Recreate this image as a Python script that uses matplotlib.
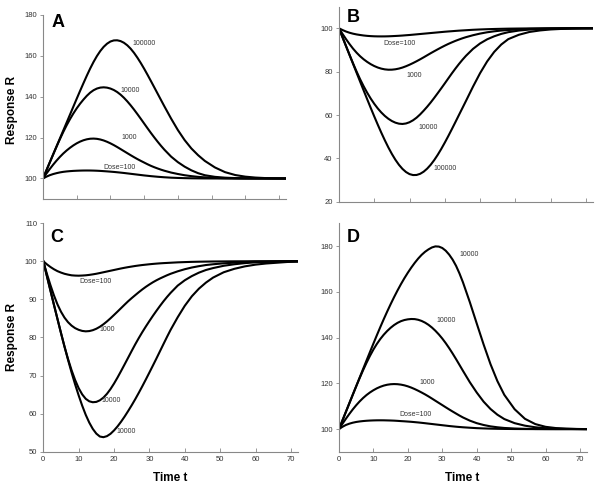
import matplotlib
matplotlib.use("Agg")
import matplotlib.pyplot as plt

plt.rcParams['font.family'] = ['Liberation Sans', 'DejaVu Sans']

# time points (shared by all panels)
t = [0, 1, 2, 3, 4, 5, 6, 7, 8, 9, 10, 11, 12, 13, 14, 15, 16, 17, 18, 19, 20, 21, 22, 23, 24, 25, 26,
     27, 28, 29, 30, 31, 32, 33, 34, 35, 36, 38, 40, 42, 44, 46, 48, 51, 54, 57, 60, 63, 66, 69, 72]

# panel A
a_100 = [100, 100.88, 101.6, 102.16, 102.6, 102.97, 103.25, 103.45, 103.6, 103.72, 103.8, 103.86, 103.9, 103.91, 103.9,
         103.86, 103.8, 103.71, 103.6, 103.48, 103.35, 103.21, 103.05, 102.88, 102.7, 102.5, 102.3, 102.1, 101.9, 101.7,
         101.5, 101.33, 101.15, 101.0, 100.85, 100.72, 100.6,
         100.4, 100.27, 100.17, 100.1, 100.06, 100.03, 100.01, 100, 100, 100, 100, 100, 100, 100]
a_1000 = [100, 102.36, 104.6, 106.72, 108.7, 110.53, 112.2, 113.68, 115, 116.18, 117.2, 118.04, 118.7, 119.17, 119.45,
          119.52, 119.4, 119.08, 118.6, 117.96, 117.2, 116.34, 115.4, 114.41, 113.4, 112.4, 111.4, 110.43, 109.5, 108.63,
          107.8, 106.97, 106.2, 105.52, 104.9, 104.32, 103.8,
          102.9, 102.2, 101.6, 101.15, 100.8, 100.55, 100.3, 100.15, 100.07, 100.03, 100, 100, 100, 100]
a_10000 = [100, 103.91, 107.8, 111.69, 115.5, 119.19, 122.7, 125.97, 129.0, 131.78, 134.3, 136.57, 138.6, 140.44, 142.0,
           143.18, 144.0, 144.46, 144.6, 144.44, 144.0, 143.29, 142.3, 141.03, 139.5, 137.74, 135.8, 133.71, 131.5, 129.22,
           126.9, 124.58, 122.3, 120.11, 118.0, 115.99, 114.1,
           110.7, 108.0, 105.8, 104.0, 102.6, 101.6, 100.8, 100.4, 100.2, 100.1, 100.05, 100.02, 100, 100]
a_100000 = [100, 103.9, 107.8, 111.7, 115.6, 119.5, 123.4, 127.3, 131.2, 135.11, 139, 142.84, 146.6, 150.29, 153.8,
            157.02, 159.9, 162.37, 164.4, 165.94, 167.0, 167.54, 167.6, 167.22, 166.4, 165.15, 163.5, 161.46, 159.1, 156.5,
            153.7, 150.75, 147.7, 144.61, 141.5, 138.39, 135.3,
            129.3, 123.7, 118.8, 114.7, 111.4, 108.6, 105.4, 103.1, 101.7, 100.9, 100.45, 100.2, 100.08, 100.02]

# panel B
b_100 = [100, 99.19, 98.5, 97.94, 97.5, 97.16, 96.9, 96.67, 96.5, 96.38, 96.3, 96.26, 96.25, 96.26, 96.3,
         96.37, 96.45, 96.54, 96.65, 96.78, 96.9, 97.05, 97.2, 97.35, 97.5, 97.65, 97.8, 97.95, 98.1, 98.25,
         98.4, 98.53, 98.65, 98.78, 98.9, 99.0, 99.1,
         99.3, 99.45, 99.57, 99.67, 99.75, 99.82, 99.88, 99.93, 99.96, 99.98, 100, 100, 100, 100]
b_1000 = [100, 97.42, 95, 92.71, 90.6, 88.74, 87.1, 85.7, 84.5, 83.46, 82.6, 81.91, 81.4, 81.06, 80.9,
          80.92, 81.1, 81.43, 81.9, 82.5, 83.2, 83.97, 84.8, 85.68, 86.6, 87.55, 88.5, 89.41, 90.3, 91.17,
          92, 92.78, 93.5, 94.18, 94.8, 95.38, 95.9,
          96.8, 97.55, 98.15, 98.6, 98.95, 99.2, 99.5, 99.7, 99.82, 99.9, 99.95, 100, 100, 100]
b_10000 = [100, 95.88, 91.8, 87.74, 83.8, 80.04, 76.5, 73.26, 70.3, 67.61, 65.2, 63.06, 61.2, 59.61, 58.3,
           57.26, 56.5, 56.04, 55.9, 56.13, 56.7, 57.6, 58.8, 60.29, 62.0, 63.83, 65.8, 67.91, 70.1, 72.33,
           74.6, 76.91, 79.2, 81.4, 83.5, 85.47, 87.3,
           90.5, 93.0, 94.9, 96.3, 97.4, 98.2, 98.95, 99.4, 99.65, 99.8, 99.9, 99.95, 100, 100]
b_100000 = [100, 95.9, 91.8, 87.7, 83.6, 79.49, 75.4, 71.33, 67.3, 63.31, 59.4, 55.58, 51.9, 48.39, 45.1,
            42.09, 39.4, 37.09, 35.2, 33.76, 32.8, 32.36, 32.4, 32.92, 33.9, 35.31, 37.1, 39.25, 41.7, 44.4,
            47.3, 50.34, 53.5, 56.73, 60.0, 63.24, 66.5,
            73.1, 79.3, 84.7, 89.1, 92.5, 95.0, 97.0, 98.3, 99.0, 99.45, 99.7, 99.85, 99.95, 100]

# panel C
c_100 = [100, 99.2, 98.5, 97.9, 97.4, 97.02, 96.7, 96.48, 96.3, 96.23, 96.2, 96.24, 96.3, 96.41, 96.55,
         96.71, 96.9, 97.1, 97.3, 97.5, 97.7, 97.9, 98.1, 98.28, 98.45, 98.6, 98.75, 98.88, 99.0, 99.1,
         99.2, 99.29, 99.37, 99.44, 99.5, 99.55, 99.6,
         99.7, 99.77, 99.83, 99.87, 99.9, 99.93, 99.95, 99.97, 99.98, 100, 100, 100, 100, 100]
c_1000 = [100, 96.76, 93.8, 91.08, 88.7, 86.76, 85.2, 84.0, 83.1, 82.44, 82.0, 81.71, 81.6, 81.67, 81.9,
          82.28, 82.8, 83.45, 84.2, 85.02, 85.9, 86.79, 87.7, 88.61, 89.5, 90.32, 91.1, 91.87, 92.6, 93.28,
          93.9, 94.48, 95.0, 95.47, 95.9, 96.32, 96.7,
          97.35, 97.9, 98.35, 98.7, 99.0, 99.2, 99.45, 99.62, 99.75, 99.85, 99.9, 99.95, 100, 100]
c_10000 = [100, 96.19, 92.4, 88.63, 84.9, 81.17, 77.6, 74.34, 71.4, 68.84, 66.7, 65.06, 63.9, 63.24, 63.0,
           63.09, 63.5, 64.21, 65.2, 66.45, 67.9, 69.5, 71.2, 72.94, 74.7, 76.47, 78.2, 79.84, 81.4, 82.88,
           84.3, 85.68, 87.0, 88.28, 89.5, 90.64, 91.7,
           93.6, 95.0, 96.1, 97.0, 97.7, 98.2, 98.8, 99.2, 99.5, 99.7, 99.8, 99.9, 99.95, 100]
c_100000 = [100, 96.19, 92.4, 88.63, 84.9, 81.21, 77.6, 74.12, 70.8, 67.69, 64.8, 62.11, 59.7, 57.66, 56.0,
            54.76, 54.0, 53.83, 54.1, 54.71, 55.6, 56.67, 57.9, 59.25, 60.7, 62.21, 63.8, 65.47, 67.2, 68.98,
            70.8, 72.64, 74.5, 76.4, 78.3, 80.18, 82.0,
            85.3, 88.3, 90.8, 92.8, 94.4, 95.7, 97.1, 98.0, 98.65, 99.1, 99.4, 99.6, 99.8, 99.9]

# panel D
d_100 = [100, 101.0, 101.8, 102.37, 102.8, 103.12, 103.35, 103.52, 103.65, 103.74, 103.8, 103.84, 103.85, 103.84, 103.8,
         103.76, 103.7, 103.61, 103.5, 103.41, 103.3, 103.19, 103.05, 102.91, 102.75, 102.58, 102.4, 102.23, 102.05, 101.88,
         101.7, 101.53, 101.35, 101.2, 101.05, 100.92, 100.8,
         100.6, 100.42, 100.3, 100.2, 100.13, 100.08, 100.04, 100.02, 100, 100, 100, 100, 100, 100]
d_1000 = [100, 102.3, 104.5, 106.61, 108.6, 110.43, 112.1, 113.59, 114.9, 116.03, 117.0, 117.83, 118.5, 119.03, 119.4,
          119.62, 119.7, 119.64, 119.45, 119.14, 118.7, 118.15, 117.5, 116.78, 116.0, 115.18, 114.3, 113.36, 112.4, 111.45,
          110.5, 109.54, 108.6, 107.69, 106.8, 105.92, 105.1,
          103.7, 102.6, 101.8, 101.2, 100.8, 100.5, 100.25, 100.12, 100.05, 100.02, 100, 100, 100, 100]
d_10000 = [100, 103.75, 107.5, 111.26, 115, 118.7, 122.3, 125.74, 129, 132.03, 134.8, 137.24, 139.4, 141.28, 142.9,
           144.31, 145.5, 146.46, 147.2, 147.7, 148.0, 148.15, 148.1, 147.81, 147.3, 146.56, 145.6, 144.41, 143.0, 141.4,
           139.6, 137.59, 135.4, 133.06, 130.6, 128.06, 125.5,
           120.5, 116.0, 112.0, 108.8, 106.3, 104.4, 102.6, 101.5, 100.8, 100.4, 100.2, 100.1, 100.03, 100]
d_100000 = [100, 103.75, 107.5, 111.25, 115, 118.75, 122.5, 126.26, 130, 133.72, 137.4, 141.04, 144.6, 148.06, 151.4,
            154.62, 157.7, 160.63, 163.4, 165.99, 168.4, 170.64, 172.7, 174.57, 176.2, 177.54, 178.6, 179.44, 179.9, 179.81,
            179.2, 178.01, 176.3, 174.12, 171.4, 168.04, 164.2,
            155.5, 146.2, 137.0, 128.4, 121.0, 115.0, 108.7, 104.5, 102.2, 101.0, 100.45, 100.2, 100.07, 100]

fig = plt.figure(figsize=(6.01, 4.90), dpi=100)
W, H = 601.0, 490.0

panels = [
    ('A', [0.0715, 0.594, 0.404, 0.3755], [a_100, a_1000, a_10000, a_100000], (90, 180), [100, 120, 140, 160, 180],
     ['Dose=100', '1000', '10000', '100000'], [(18, 105.5), (23.2, 120.2), (23, 142.8), (26.5, 166)], (52, 14)),
    ('B', [0.564, 0.588, 0.4226, 0.3986], [b_100, b_1000, b_10000, b_100000], (20, 110), [20, 40, 60, 80, 100],
     ['Dose=100', '1000', '10000', '100000'], [(12.6, 93.1), (19.2, 78.3), (22.5, 54.3), (26.7, 35.5)], (347, 9)),
    ('C', [0.072, 0.078, 0.4238, 0.4667], [c_100, c_1000, c_10000, c_100000], (50, 110), [50, 60, 70, 80, 90, 100, 110],
     ['Dose=100', '1000', '10000', '10000'], [(10.3, 94.75), (15.9, 82.1), (16.4, 63.5), (20.6, 55.2)], (50, 229)),
    ('D', [0.564, 0.0776, 0.4126, 0.4667], [d_100, d_1000, d_10000, d_100000], (90, 190), [100, 120, 140, 160, 180],
     ['Dose=100', '1000', '10000', '10000'], [(17.6, 106.5), (23.4, 120.2), (28.4, 147.3), (35, 176.4)], (347, 229)),
]

for letter, pos, series, ylim, yticks, labels, label_pos, lpos in panels:
    ax = fig.add_axes(pos)
    for ys in series:
        ax.plot(t, ys, color='black', lw=1.5)
    for lab, (lx, ly) in zip(labels, label_pos):
        ax.text(lx, ly, lab, fontsize=5, color='#333333', va='center', ha='left')
    ax.set_xlim(0, 72)
    ax.set_ylim(*ylim)
    ax.set_yticks(yticks)
    ax.set_xticks([0, 10, 20, 30, 40, 50, 60, 70])
    for s in ['top', 'right']:
        ax.spines[s].set_visible(False)
    for s in ['left', 'bottom']:
        ax.spines[s].set_color('#888888')
        ax.spines[s].set_linewidth(0.8)
    ax.tick_params(axis='y', direction='out', length=2.5, width=0.6, color='#888888',
                   labelsize=5.5, labelcolor='#333333', pad=2)
    ax.tick_params(axis='x', direction='in', length=3, width=0.6, color='#888888',
                   labelsize=5.5, labelcolor='#333333', pad=3)
    if letter in ('A', 'B'):
        ax.set_xticklabels([])
    fig.text(lpos[0] / W, 1 - lpos[1] / H, letter, fontsize=13, fontweight='bold', va='top', ha='left')

fig.text(12 / W, 1 - 110 / H, 'Response R', rotation=90, fontsize=8.5, fontweight='bold', ha='center', va='center')
fig.text(12 / W, 1 - 337 / H, 'Response R', rotation=90, fontsize=8.5, fontweight='bold', ha='center', va='center')
fig.text(170 / W, 1 - 478 / H, 'Time t', fontsize=8.5, fontweight='bold', ha='center', va='center')
fig.text(462 / W, 1 - 478 / H, 'Time t', fontsize=8.5, fontweight='bold', ha='center', va='center')

fig.savefig('out.png', dpi=100)
